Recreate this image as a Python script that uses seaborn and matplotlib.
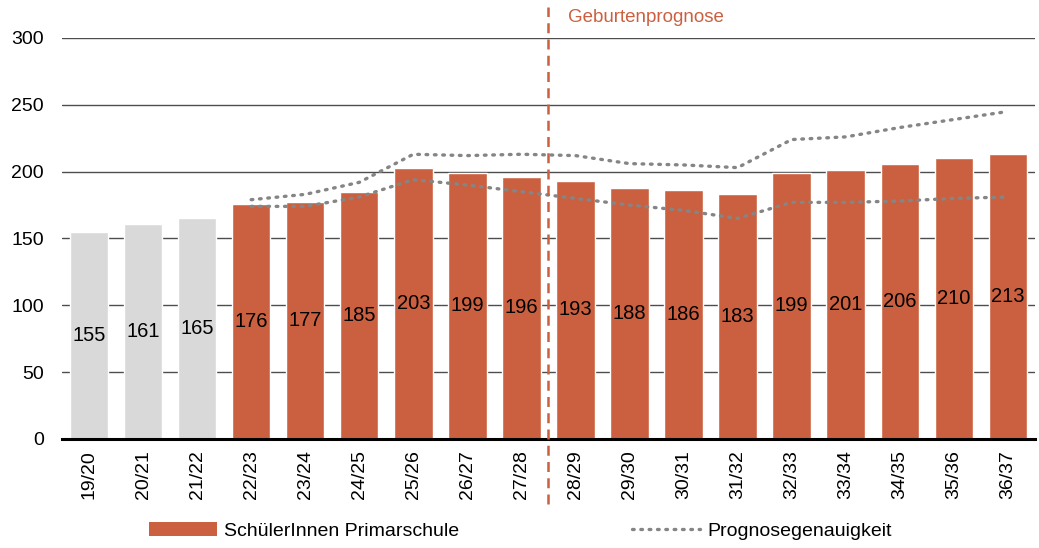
import matplotlib
matplotlib.use("Agg")
import matplotlib.pyplot as plt
import seaborn as sns
import pandas as pd
from matplotlib.patches import Patch
from matplotlib.lines import Line2D

# ── Data ──────────────────────────────────────────────────────
years = ["19/20", "20/21", "21/22", "22/23", "23/24", "24/25", "25/26", "26/27", "27/28",
         "28/29", "29/30", "30/31", "31/32", "32/33", "33/34", "34/35", "35/36", "36/37"]
pupils = [155, 161, 165, 176, 177, 185, 203, 199, 196,
          193, 188, 186, 183, 199, 201, 206, 210, 213]
is_forecast = [False, False, False] + [True] * 15

# accuracy band (upper / lower), starts at 22/23
band_years = years[3:]
band_upper = [179, 183, 192, 213, 212, 213, 212, 206, 205, 203, 224, 226, 233, 239, 245]
band_lower = [174, 174, 181, 194, 190, 185, 180, 175, 171, 165, 177, 177, 178, 180, 181]

ORANGE = "#CB6040"
GREY_BAR = "#D9D9D9"
GREY_LINE = "#858585"
DOTS = (0, (0.5, 2.0))

df = pd.DataFrame({"year": years, "pupils": pupils,
                   "kind": ["forecast" if f else "past" for f in is_forecast]})

# ── Plot ──────────────────────────────────────────────────────
sns.set_theme(style="white")
plt.rcParams["font.family"] = ["Liberation Sans", "DejaVu Sans"]
plt.rcParams["text.color"] = "black"
plt.rcParams["xtick.color"] = "black"
plt.rcParams["ytick.color"] = "black"

fig = plt.figure(figsize=(10.39, 5.48), dpi=100)
ax = fig.add_axes([0.0597, 0.199, 0.9363, 0.7317])

sns.barplot(data=df, x="year", y="pupils", hue="kind",
            palette={"past": GREY_BAR, "forecast": ORANGE}, saturation=1,
            width=0.71, dodge=False, legend=False, ax=ax, zorder=2)

for i, v in enumerate(pupils):
    ax.text(i, v / 2, str(v), ha="center", va="center", fontsize=14.5, color="black", zorder=4)

pos = {y: i for i, y in enumerate(years)}
bx = [pos[y] for y in band_years]
for vals in (band_upper, band_lower):
    ax.plot(bx, vals, color=GREY_LINE, lw=2.4, linestyle=DOTS,
            dash_capstyle="round", zorder=3)

ax.set_ylim(0, 300)
ax.set_xlim(-0.5, len(years) - 0.5)
ax.set_yticks(range(0, 301, 50))
ax.yaxis.grid(True, color="#4d4d4d", lw=1)
ax.set_axisbelow(True)
for s in ("left", "right", "top"):
    ax.spines[s].set_visible(False)
ax.spines["bottom"].set_color("black")
ax.spines["bottom"].set_linewidth(2.2)
ax.tick_params(axis="y", labelsize=14, length=0, pad=13)
ax.tick_params(axis="x", labelsize=14, length=0, pad=8, rotation=90)
ax.set_xlabel("")
ax.set_ylabel("")

# forecast divider
ax.plot([8.5, 8.5], [-49, 323], color=ORANGE, lw=1.8, linestyle=(0, (4, 2.5)),
        clip_on=False, zorder=5)
ax.text(8.87, 315, "Geburtenprognose", color=ORANGE, fontsize=13.5, va="center", ha="left")

handles = [Patch(facecolor=ORANGE, edgecolor="none"),
           Line2D([0], [0], color=GREY_LINE, lw=2.4, linestyle=DOTS,
                  dash_capstyle="round")]
fig.legend(handles, ["SchülerInnen Primarschule", "Prognosegenauigkeit"],
           loc="center", bbox_to_anchor=(0.501, 0.031), ncol=2, frameon=False,
           fontsize=14, handlelength=3.5, handleheight=0.75, columnspacing=8.9,
           handletextpad=0.36)

fig.savefig("out.png", dpi=100)
